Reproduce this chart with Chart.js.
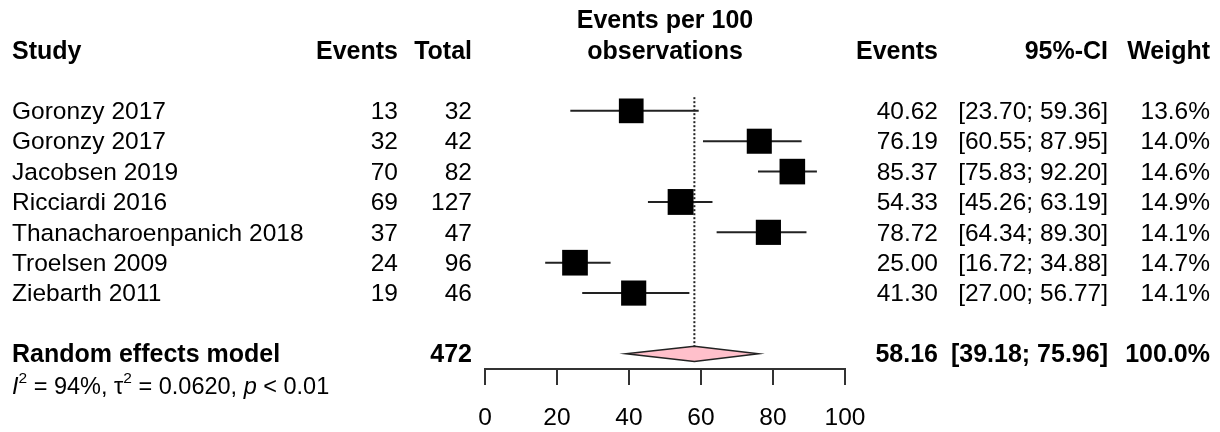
<!DOCTYPE html>
<html><head><meta charset="utf-8">
<script src="https://cdn.jsdelivr.net/npm/chart.js@4"></script>
<style>html,body{margin:0;padding:0;background:#fff;} #wrap{width:1220px;height:432px;position:relative;}</style>
</head><body><div id="wrap"><canvas id="c" width="1220" height="432"></canvas></div>
<script>
const studies = ['Goronzy 2017','Goronzy 2017','Jacobsen 2019','Ricciardi 2016','Thanacharoenpanich 2018','Troelsen 2009','Ziebarth 2011'];
const events = [13, 32, 70, 69, 37, 24, 19];
const totals = [32, 42, 82, 127, 47, 96, 46];
const estimates = [40.62, 76.19, 85.37, 54.33, 78.72, 25.00, 41.30];
const lowerCI = [23.70, 60.55, 75.83, 45.26, 64.34, 16.72, 27.00];
const upperCI = [59.36, 87.95, 92.20, 63.19, 89.30, 34.88, 56.77];
const weights = [13.6, 14.0, 14.6, 14.9, 14.1, 14.7, 14.1];
const pooledLabel = ['Random effects model'];
const pooledTotal = [472];
const pooledValues = [58.16, 39.18, 75.96]; // estimate, lower, upper
const pooledWeight = [100.0];
const hetero = ['94%', '0.0620', '< 0.01']; // I2, tau2, p
const xTicks = [0, 20, 40, 60, 80, 100];
const headers = ['Study', 'Events', 'Total', 'Events per 100', 'observations', 'Events', '95%-CI', 'Weight'];

const FONT = '"Liberation Sans", Arial, Helvetica, sans-serif';
const FS = 24.5;
const FSB = 25;
const SUMMARY_ROW = studies.length + 1;
const HET_ROW = studies.length + 2;
const TEXT_DY = 1.5;

function fmt2(v){ return v.toFixed(2); }
function ciText(lo, hi){ return '[' + fmt2(lo) + '; ' + fmt2(hi) + ']'; }

const forestPlugin = {
  id: 'forest',
  beforeDatasetsDraw(chart){
    const {ctx, scales:{x, y}} = chart;
    ctx.save();
    // dotted line at pooled estimate
    ctx.strokeStyle = '#222';
    ctx.lineWidth = 2;
    ctx.setLineDash([2, 2]);
    const xp = x.getPixelForValue(pooledValues[0]);
    ctx.beginPath();
    ctx.moveTo(xp, y.getPixelForValue(-0.45));
    ctx.lineTo(xp, y.getPixelForValue(SUMMARY_ROW - 0.25));
    ctx.stroke();
    ctx.setLineDash([]);
    // CI lines
    ctx.strokeStyle = '#222';
    ctx.lineWidth = 2;
    for (let i = 0; i < studies.length; i++) {
      const yp = y.getPixelForValue(i);
      ctx.beginPath();
      ctx.moveTo(x.getPixelForValue(lowerCI[i]), yp);
      ctx.lineTo(x.getPixelForValue(upperCI[i]), yp);
      ctx.stroke();
    }
    // diamond
    const yc = y.getPixelForValue(SUMMARY_ROW);
    const h = y.getPixelForValue(SUMMARY_ROW + 0.25) - yc;
    ctx.beginPath();
    ctx.moveTo(x.getPixelForValue(pooledValues[1]), yc);
    ctx.lineTo(xp, yc - h);
    ctx.lineTo(x.getPixelForValue(pooledValues[2]), yc);
    ctx.lineTo(xp, yc + h);
    ctx.closePath();
    ctx.fillStyle = '#FFC0CB';
    ctx.fill();
    ctx.strokeStyle = '#222';
    ctx.lineWidth = 1.5;
    ctx.stroke();
    ctx.restore();
  },
  afterDraw(chart){
    const {ctx, scales:{x, y}} = chart;
    ctx.save();
    ctx.fillStyle = '#000';
    ctx.textBaseline = 'middle';
    const col = {study:12, ev:398, tot:472, ev2:938, ci:1108, w:1210};
    const put = (t, px, row, align, bold) => {
      ctx.font = bold ? ('bold ' + FSB + 'px ' + FONT) : (FS + 'px ' + FONT);
      ctx.textAlign = align;
      ctx.fillText(t, px, y.getPixelForValue(row) + TEXT_DY);
    };
    // headers
    put(headers[0], col.study, -2, 'left', true);
    put(headers[1], col.ev, -2, 'right', true);
    put(headers[2], col.tot, -2, 'right', true);
    const mid = (x.left + x.right) / 2;
    put(headers[3], mid, -3, 'center', true);
    put(headers[4], mid, -2, 'center', true);
    put(headers[5], col.ev2, -2, 'right', true);
    put(headers[6], col.ci, -2, 'right', true);
    put(headers[7], col.w, -2, 'right', true);
    // studies
    for (let i = 0; i < studies.length; i++) {
      put(studies[i], col.study, i, 'left', false);
      put(String(events[i]), col.ev, i, 'right', false);
      put(String(totals[i]), col.tot, i, 'right', false);
      put(fmt2(estimates[i]), col.ev2, i, 'right', false);
      put(ciText(lowerCI[i], upperCI[i]), col.ci, i, 'right', false);
      put(weights[i].toFixed(1) + '%', col.w, i, 'right', false);
    }
    // summary
    put(pooledLabel[0], col.study, SUMMARY_ROW, 'left', true);
    put(String(pooledTotal[0]), col.tot, SUMMARY_ROW, 'right', true);
    put(fmt2(pooledValues[0]), col.ev2, SUMMARY_ROW, 'right', true);
    put(ciText(pooledValues[1], pooledValues[2]), col.ci, SUMMARY_ROW, 'right', true);
    put(pooledWeight[0].toFixed(1) + '%', col.w, SUMMARY_ROW, 'right', true);
    // heterogeneity line
    const yh = y.getPixelForValue(HET_ROW) + TEXT_DY + 2;
    const HF = '23.5px ' + FONT;
    const SF = '15.5px ' + FONT;
    const parts = [
      {t:'I', f:'italic ' + HF, dy:0},
      {t:'2', f:SF, dy:-9},
      {t:' = ' + hetero[0] + ', ', f:HF, dy:0},
      {t:'\u03C4', f:HF, dy:0},
      {t:'2', f:SF, dy:-9},
      {t:' = ' + hetero[1] + ', ', f:HF, dy:0},
      {t:'p', f:'italic ' + HF, dy:0},
      {t:' ' + hetero[2], f:HF, dy:0}
    ];
    let cx = col.study;
    ctx.textAlign = 'left';
    for (const p of parts) {
      ctx.font = p.f;
      ctx.fillText(p.t, cx, yh + p.dy);
      cx += ctx.measureText(p.t).width;
    }
    ctx.restore();
  }
};

new Chart(document.getElementById('c'), {
  type: 'scatter',
  data: {
    datasets: [{
      data: estimates.map((v, i) => ({x: v, y: i})),
      pointStyle: 'rect',
      pointRadius: weights.map(w => 6.7 * Math.sqrt(w) / Math.SQRT2),
      pointHoverRadius: weights.map(w => 6.7 * Math.sqrt(w) / Math.SQRT2),
      backgroundColor: '#000',
      borderColor: '#000',
      borderWidth: 0,
      clip: false
    }]
  },
  options: {
    responsive: false,
    animation: false,
    devicePixelRatio: 1,
    events: [],
    layout: {autoPadding: false, padding: {left: 485, right: 375, top: 0, bottom: 0}},
    plugins: {legend: {display: false}, tooltip: {enabled: false}},
    scales: {
      x: {
        type: 'linear', min: 0, max: 100, position: 'bottom',
        afterBuildTicks: s => { s.ticks = xTicks.map(v => ({value: v})); },
        afterFit: s => { s.height = 63; },
        grid: {display: true, drawOnChartArea: false, drawTicks: true, tickLength: 16, color: '#333', lineWidth: 2},
        border: {display: true, color: '#333', width: 2},
        ticks: {font: {size: FS, family: FONT}, color: '#000', padding: 19, maxRotation: 0, autoSkip: false}
      },
      y: {
        type: 'linear', min: -3.65, max: 8.5, reverse: true, display: false
      }
    }
  },
  plugins: [forestPlugin]
});
</script>
</body></html>
